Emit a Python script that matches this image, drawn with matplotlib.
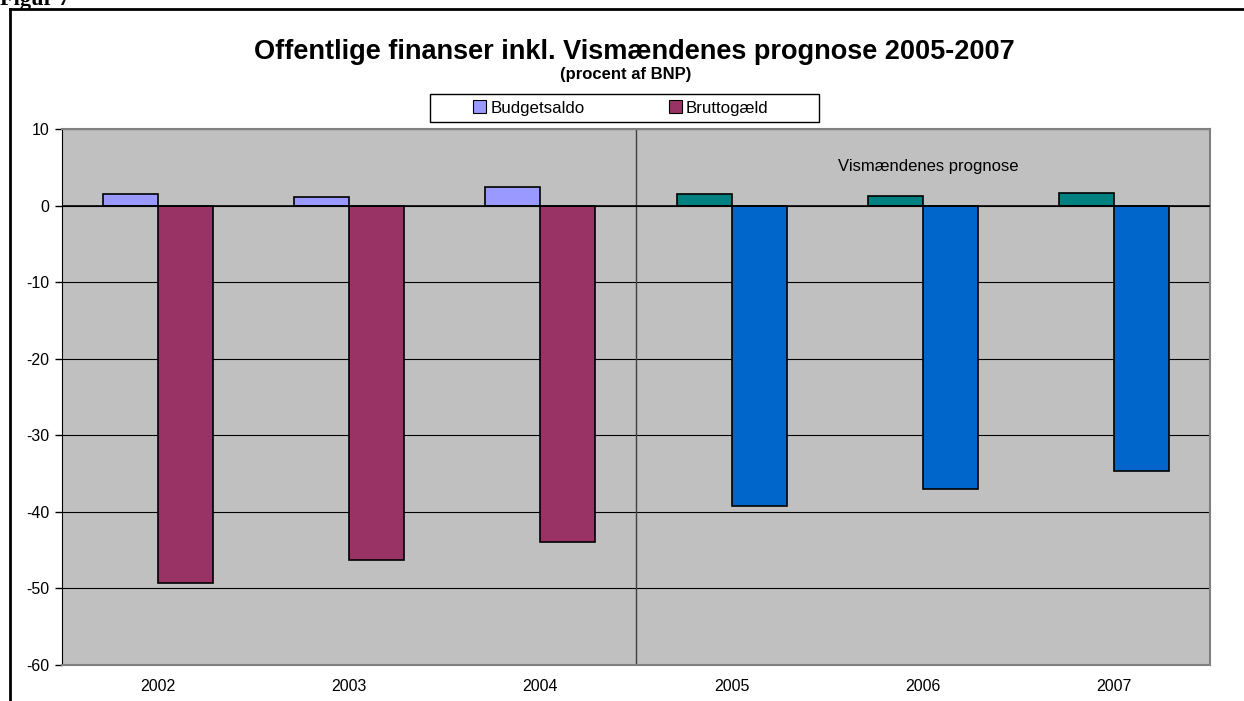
import matplotlib
matplotlib.use('Agg')
import matplotlib.pyplot as plt
from matplotlib.patches import Patch, Rectangle
from matplotlib.lines import Line2D
import numpy as np

plt.rcParams['font.family'] = ['Liberation Sans', 'DejaVu Sans']
plt.rcParams['axes.unicode_minus'] = False

# data (procent af BNP)
years = ['2002', '2003', '2004', '2005', '2006', '2007']
budgetsaldo = [1.5, 1.1, 2.4, 1.5, 1.3, 1.6]
bruttogaeld = [-49.3, -46.3, -44.0, -39.3, -37.0, -34.7]
budget_colors = ['#9999FF', '#9999FF', '#9999FF', '#008080', '#008080', '#008080']
brutto_colors = ['#993366', '#993366', '#993366', '#0066CC', '#0066CC', '#0066CC']
yticks = [10, 0, -10, -20, -30, -40, -50, -60]

W, H = 1244, 701
fig = plt.figure(figsize=(W / 100, H / 100), dpi=100)
ax = fig.add_axes([62 / W, 1 - 665 / H, (1210 - 62) / W, (665 - 129) / H])
ax.set_facecolor('#C0C0C0')

x = np.arange(len(years))
w = 0.287
ax.bar(x - w / 2, budgetsaldo, width=w, color=budget_colors, edgecolor='black',
       linewidth=1.2, zorder=3)
ax.bar(x + w / 2, bruttogaeld, width=w, color=brutto_colors, edgecolor='black',
       linewidth=1.2, zorder=3)

ax.set_xlim(-0.5, len(years) - 0.5)
ax.set_ylim(-60, 10)
ax.set_yticks(yticks)
ax.set_yticklabels([str(v) for v in yticks])
ax.set_xticks(x)
ax.set_xticklabels(years)
ax.tick_params(axis='y', direction='out', length=5, width=1, color='black',
               labelsize=11.5, pad=4)
ax.tick_params(axis='x', length=0, labelsize=11.5, pad=10)

ax.yaxis.grid(True, color='black', linewidth=0.8, zorder=1)
ax.set_axisbelow(True)
ax.axhline(0, color='black', linewidth=1.2, zorder=4)
ax.axvline(2.5, color='#404040', linewidth=1, zorder=2)

for side in ['top', 'right', 'bottom']:
    ax.spines[side].set_color('#808080')
    ax.spines[side].set_linewidth(1.5)
ax.spines['left'].set_color('black')

ax.text(4.03, 5.1, 'Vismændenes prognose', ha='center', va='center', fontsize=12)

fig.text(634 / W, 1 - 52 / H, 'Offentlige finanser inkl. Vismændenes prognose 2005-2007',
         ha='center', va='center', fontsize=19.5, fontweight='bold')
fig.text(626 / W, 1 - 75 / H, '(procent af BNP)', ha='center', va='center',
         fontsize=12, fontweight='bold')

# legend box
fig.add_artist(Rectangle((430 / W, 1 - 122 / H), 389 / W, 28 / H, transform=fig.transFigure,
                         facecolor='white', edgecolor='black', linewidth=1))
handles = [Patch(facecolor=budget_colors[0], edgecolor='black', linewidth=0.8),
           Patch(facecolor=brutto_colors[0], edgecolor='black', linewidth=0.8)]
leg = fig.legend(handles, ['Budgetsaldo', 'Bruttogæld'], loc='center',
                 bbox_to_anchor=(621 / W, 1 - 108 / H), ncol=2, frameon=False,
                 fontsize=12.2, handlelength=0.75, handleheight=0.75,
                 handletextpad=0.25, columnspacing=5.0, borderpad=0)

# page border and cut-off caption
fig.add_artist(Line2D([10 / W, 10 / W], [0, 1 - 9 / H], color='black', linewidth=2))
fig.add_artist(Line2D([10 / W, 1], [1 - 9 / H, 1 - 9 / H], color='black', linewidth=2))
fig.text(0 / W, 1 - 5 / H, 'Figur 7', ha='left', va='baseline', fontsize=16,
         fontweight='bold', family=['Liberation Serif'])

fig.savefig('out.png', dpi=100)
